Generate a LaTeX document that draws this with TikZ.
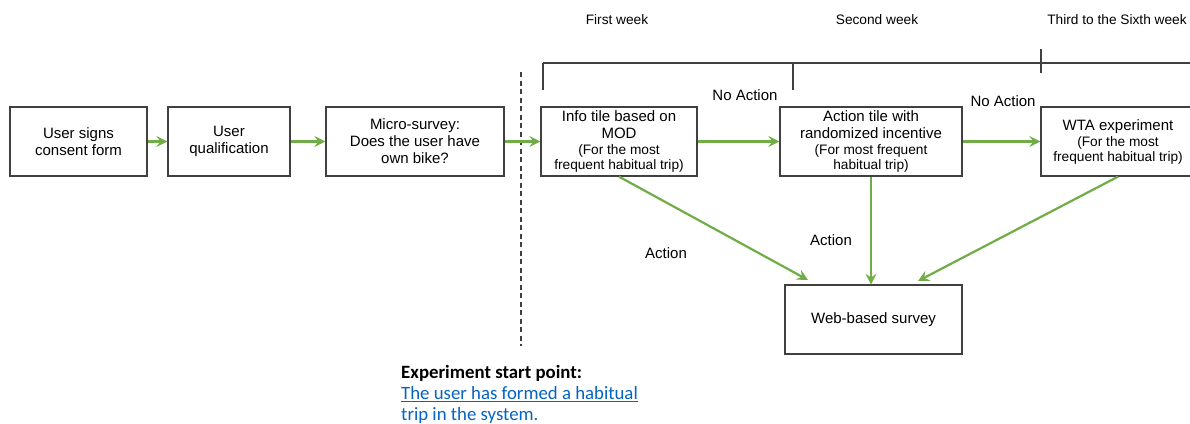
\documentclass[tikz,border=0pt]{standalone}
\usepackage{fontspec}
\setmainfont{Liberation Sans}
\newfontfamily\calib{Carlito}
\usetikzlibrary{positioning,calc,arrows.meta}
\definecolor{flowgreen}{RGB}{112,173,71}
\definecolor{boxgray}{RGB}{64,64,64}
\definecolor{linkblue}{RGB}{5,99,193}
\newcommand{\mainsz}{\fontsize{15}{17}\selectfont}
\newcommand{\smsz}{\fontsize{13.7}{16}\selectfont}
\tikzset{
  stagebox/.style={rectangle, draw=boxgray, line width=1.3pt, minimum height=69pt, inner sep=0pt, align=center, font=\mainsz},
  flowarr/.style={draw=flowgreen, line width=2.2pt, -{Stealth[length=11pt, width=11pt, inset=4pt]}},
  weeklbl/.style={font=\smsz, inner sep=0pt},
  edgelbl/.style={font=\mainsz, inner sep=0pt},
  bracketline/.style={draw=boxgray, line width=1.3pt}
}

\begin{document}
\begin{tikzpicture}[x=1pt, y=-1pt]
  \useasboundingbox (0,0) rectangle (1190,423);
  \clip (0,0) rectangle (1190,423);
  % boxes
  \node[stagebox, minimum width=137pt] (consent) at (78.5,141.5) {User signs\\consent form};
  \node[stagebox, minimum width=122pt] (qualif) at (229,141.5) {User\\qualification};
  \node[stagebox, minimum width=178pt] (micro) at (415,141.5) {Micro-survey:\\Does the user have\\own bike?};
  \node[stagebox, minimum width=156pt] (info) at (619,141.5) {Info tile based on\\MOD\\[-1pt]\smsz (For the most\\[-2pt]\smsz frequent habitual trip)};
  \node[stagebox, minimum width=182pt] (acttile) at (871,141.5) {Action tile with\\randomized incentive\\[-1pt]\smsz (For most frequent\\[-2pt]\smsz habitual trip)};
  \node[stagebox, minimum width=154pt] (wta) at (1118,141.5) {WTA experiment\\[-1pt]\smsz (For the most\\[-2pt]\smsz frequent habitual trip)};
  \node[stagebox, minimum width=177pt] (survey) at (873.5,319.5) {Web-based survey};
  % week bracket
  \draw[bracketline] (543,63) -- (1190,63);
  \draw[bracketline] (543,63) -- (543,90);
  \draw[bracketline] (793,64) -- (793,90);
  \draw[bracketline] (1041,49) -- (1041,73);
  \node[weeklbl] (wk1) at (617,20) {First week};
  \node[weeklbl] (wk2) at (877,20) {Second week};
  \node[weeklbl] (wk3) at (1117,20) {Third to the Sixth week};
  % start line
  \coordinate (starttop) at (521,72);
  \coordinate (startbot) at (521,346);
  \draw[boxgray, line width=1.3pt, dash pattern=on 5pt off 3.5pt] (starttop) -- (startbot);
  % arrows
  \draw[flowarr] (consent) -- (qualif);
  \draw[flowarr] (qualif) -- (micro);
  \draw[flowarr] (micro) -- (info);
  \draw[flowarr] (info) -- (acttile);
  \draw[flowarr] (acttile) -- (wta);
  \coordinate (tipinfo) at (808,280);
  \coordinate (tipwta) at (918,281);
  \draw[flowarr] (info.south) -- (tipinfo);
  \draw[flowarr] (acttile.south) -- ($(acttile.south)+(0,108)$);
  \draw[flowarr] (wta.south) -- (tipwta);
  % labels
  \node[edgelbl] (noact1) at (745,95) {No Action};
  \node[edgelbl] (noact2) at (1003,101) {No Action};
  \node[edgelbl] (act1) at (666,253) {Action};
  \node[edgelbl] (act2) at (831,240) {Action};
  \node[anchor=north west, inner sep=0pt, align=left, font=\calib\fontsize{18.8}{21.3}\selectfont] (startnote) at (401,365)
    {\textbf{Experiment start point:}\\\color{linkblue}\underline{The user has formed a habitual}\\\color{linkblue}\underline{trip in the system.}};
\end{tikzpicture}
\end{document}
